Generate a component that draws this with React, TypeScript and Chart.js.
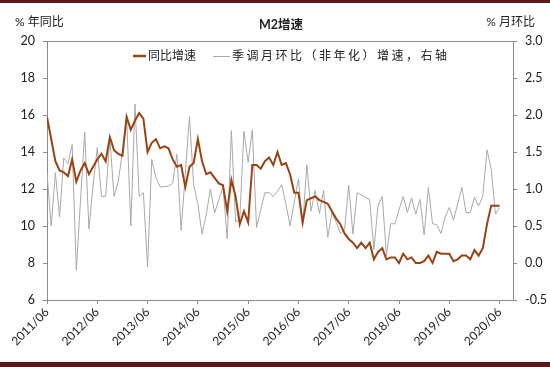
import React, { useEffect, useRef } from "react";
import { Chart, registerables } from "chart.js";

Chart.register(...registerables);

const FONT = "Lato, 'Noto Sans CJK SC', sans-serif";

const TITLE = "M2增速";
const LEFT_UNIT = "% 年同比";
const RIGHT_UNIT = "% 月环比";
const SERIES_YOY = "同比增速";
const SERIES_MOM = "季调月环比（非年化）增速，右轴";

// x tick labels, one per 12 months starting at 2011/06
const xTickLabels = [
  "2011/06", "2012/06", "2013/06", "2014/06", "2015/06",
  "2016/06", "2017/06", "2018/06", "2019/06", "2020/06",
];

// M2 YoY growth, %, monthly 2011/06 .. 2020/06 (left axis)
const yoy2011 = [15.9, 14.7, 13.5, 13.0, 12.9, 12.7, 13.6];
const yoy2012 = [12.4, 13.0, 13.4, 12.8, 13.2, 13.6, 13.9, 13.5, 14.8, 14.1, 13.9, 13.8];
const yoy2013 = [15.9, 15.2, 15.7, 16.1, 15.8, 14.0, 14.5, 14.7, 14.2, 14.3, 14.2, 13.6];
const yoy2014 = [13.2, 13.3, 12.1, 13.2, 13.4, 14.7, 13.5, 12.8, 12.9, 12.6, 12.3, 12.2];
const yoy2015 = [10.8, 12.5, 11.6, 10.1, 10.8, 10.2, 13.3, 13.3, 13.1, 13.5, 13.7, 13.3];
const yoy2016 = [14.0, 13.3, 13.4, 12.8, 11.8, 11.8, 10.2, 11.4, 11.5, 11.6, 11.4, 11.3];
const yoy2017 = [11.2, 10.8, 10.4, 10.1, 9.6, 9.3, 9.1, 8.8, 9.1, 8.8, 9.1, 8.2];
const yoy2018 = [8.6, 8.8, 8.2, 8.3, 8.3, 8.0, 8.5, 8.2, 8.3, 8.0, 8.0, 8.1];
const yoy2019 = [8.4, 8.0, 8.6, 8.5, 8.5, 8.5, 8.1, 8.2, 8.4, 8.4, 8.2, 8.7];
const yoy2020 = [8.4, 8.8, 10.1, 11.1, 11.1, 11.1];

// Seasonally adjusted MoM growth (non-annualized), %, same months (right axis)
const mom2011 = [1.22, 0.5, 1.22, 0.62, 1.42, 1.34, 1.6];
const mom2012 = [-0.1, 0.85, 1.77, 0.46, 1.05, 1.56, 0.9, 0.9, 1.68, 0.9, 1.1, 1.5];
const mom2013 = [1.98, 0.5, 2.15, 0.9, 0.95, -0.05, 1.4, 1.15, 1.03, 1.03, 1.04, 1.08];
const mom2014 = [1.47, 0.44, 1.2, 1.98, 1.05, 0.8, 0.39, 0.65, 1.0, 0.68, 0.85, 1.03];
const mom2015 = [0.33, 1.79, 0.55, 0.6, 1.78, 1.36, 1.8, 0.48, 0.72, 0.95, 0.95, 0.9];
const mom2016 = [0.97, 1.06, 0.8, 0.5, 0.82, 1.14, 0.5, 1.33, 0.7, 0.98, 0.67, 0.98];
const mom2017 = [0.35, 0.68, 0.55, 0.4, 0.45, 1.05, 0.39, 0.95, 0.92, 0.89, 0.86, 0.18];
const mom2018 = [0.78, 0.9, 0.1, 0.53, 0.53, 0.72, 0.9, 0.68, 0.88, 0.66, 0.86, 0.38];
const mom2019 = [1.02, 0.53, 0.52, 0.4, 0.62, 0.75, 0.58, 0.8, 1.02, 0.68, 0.68, 0.89];
const mom2020 = [0.77, 0.9, 1.53, 1.27, 0.66, 0.75];

const yoy = [
  ...yoy2011, ...yoy2012, ...yoy2013, ...yoy2014, ...yoy2015,
  ...yoy2016, ...yoy2017, ...yoy2018, ...yoy2019, ...yoy2020,
];
const mom = [
  ...mom2011, ...mom2012, ...mom2013, ...mom2014, ...mom2015,
  ...mom2016, ...mom2017, ...mom2018, ...mom2019, ...mom2020,
];

const ORANGE = "#9a4414";
const GREY = "#a9a9a9";
const AXIS = "#8a8a8a";
const TEXT = "#222222";

export default function App() {
  const ref = useRef<HTMLCanvasElement>(null);

  useEffect(() => {
    document.body.style.margin = "0";
    const decor = {
      id: "decor",
      afterDraw(chart: any) {
        const { ctx, chartArea: a } = chart;
        ctx.save();
        // top border of the plot area
        ctx.strokeStyle = AXIS;
        ctx.lineWidth = 1;
        ctx.beginPath();
        ctx.moveTo(a.left, Math.round(a.top) + 0.5);
        ctx.lineTo(a.right, Math.round(a.top) + 0.5);
        ctx.stroke();
        // unit labels and title
        ctx.fillStyle = TEXT;
        ctx.textBaseline = "middle";
        ctx.font = `12px ${FONT}`;
        ctx.textAlign = "left";
        ctx.fillText(LEFT_UNIT, 15, 22);
        ctx.textAlign = "right";
        ctx.fillText(RIGHT_UNIT, 535, 22);
        ctx.font = `bold 12.5px ${FONT}`;
        ctx.textAlign = "center";
        ctx.fillText(TITLE, 281, 25);
        // legend inside the plot, top centre
        const ds = chart.data.datasets;
        const ly = a.top + 15;
        ctx.textAlign = "left";
        ctx.font = `12px ${FONT}`;
        ctx.lineCap = "butt";
        ctx.strokeStyle = ds[0].borderColor;
        ctx.lineWidth = 2.5;
        ctx.beginPath();
        ctx.moveTo(133, ly);
        ctx.lineTo(146, ly);
        ctx.stroke();
        ctx.fillText(ds[0].label, 148, ly);
        ctx.strokeStyle = ds[1].borderColor;
        ctx.lineWidth = 1;
        ctx.beginPath();
        ctx.moveTo(213, ly + 0.5);
        ctx.lineTo(230, ly + 0.5);
        ctx.stroke();
        try {
          (ctx as any).letterSpacing = "2.5px";
        } catch (e) {}
        ctx.fillText(ds[1].label, 232, ly);
        ctx.restore();
      },
    };

    const chart = new Chart(ref.current!, {
      type: "line",
      data: {
        datasets: [
          {
            label: SERIES_YOY,
            data: yoy.map((v, i) => ({ x: i, y: v })),
            yAxisID: "y",
            borderColor: ORANGE,
            backgroundColor: ORANGE,
            borderWidth: 2,
            pointRadius: 0,
            tension: 0,
          },
          {
            label: SERIES_MOM,
            data: mom.map((v, i) => ({ x: i, y: v })),
            yAxisID: "y1",
            borderColor: GREY,
            backgroundColor: GREY,
            borderWidth: 1,
            pointRadius: 0,
            tension: 0,
          },
        ],
      },
      options: {
        responsive: false,
        animation: false,
        layout: { padding: { top: 41, left: 0, right: 0, bottom: 0 } },
        plugins: {
          legend: { display: false },
          tooltip: { enabled: false },
        },
        scales: {
          x: {
            type: "linear",
            min: 0,
            max: 111.2,
            afterBuildTicks: (axis: any) => {
              axis.ticks = xTickLabels.map((_, k) => ({ value: k * 12 }));
            },
            afterFit: (s: any) => {
              s.height = 67;
            },
            ticks: {
              autoSkip: false,
              minRotation: 45,
              maxRotation: 45,
              padding: 1,
              color: TEXT,
              font: { size: 12, family: FONT },
              callback: (v: any) => xTickLabels[Math.round(Number(v) / 12)] ?? "",
            },
            grid: { display: true, drawOnChartArea: false, drawTicks: true, tickLength: 4, color: AXIS },
            border: { display: true, color: AXIS },
          },
          y: {
            position: "left",
            min: 6,
            max: 20,
            afterFit: (s: any) => {
              s.width = 47;
            },
            ticks: { stepSize: 2, padding: 8, color: TEXT, font: { size: 12.5, family: FONT } },
            grid: { display: true, drawOnChartArea: false, drawTicks: true, tickLength: 4, color: AXIS },
            border: { display: true, color: AXIS },
          },
          y1: {
            position: "right",
            min: -0.5,
            max: 3,
            afterFit: (s: any) => {
              s.width = 37;
            },
            ticks: {
              stepSize: 0.5,
              padding: 8,
              color: TEXT,
              font: { size: 12.5, family: FONT },
              callback: (v: any) => Number(v).toFixed(1),
            },
            grid: { display: true, drawOnChartArea: false, drawTicks: true, tickLength: 4, color: AXIS },
            border: { display: true, color: AXIS },
          },
        },
      },
      plugins: [decor],
    });
    return () => chart.destroy();
  }, []);

  return (
    <div style={{ position: "relative", width: 550, height: 367, background: "#fff", overflow: "hidden" }}>
      <canvas ref={ref} width={550} height={367} style={{ position: "absolute", left: 0, top: 0, width: 550, height: 367 }} />
      <div style={{ position: "absolute", left: 0, top: 0, width: 550, height: 3, background: "#5a1818" }} />
      <div style={{ position: "absolute", left: 0, bottom: 0, width: 550, height: 5, background: "#5a1818" }} />
    </div>
  );
}
